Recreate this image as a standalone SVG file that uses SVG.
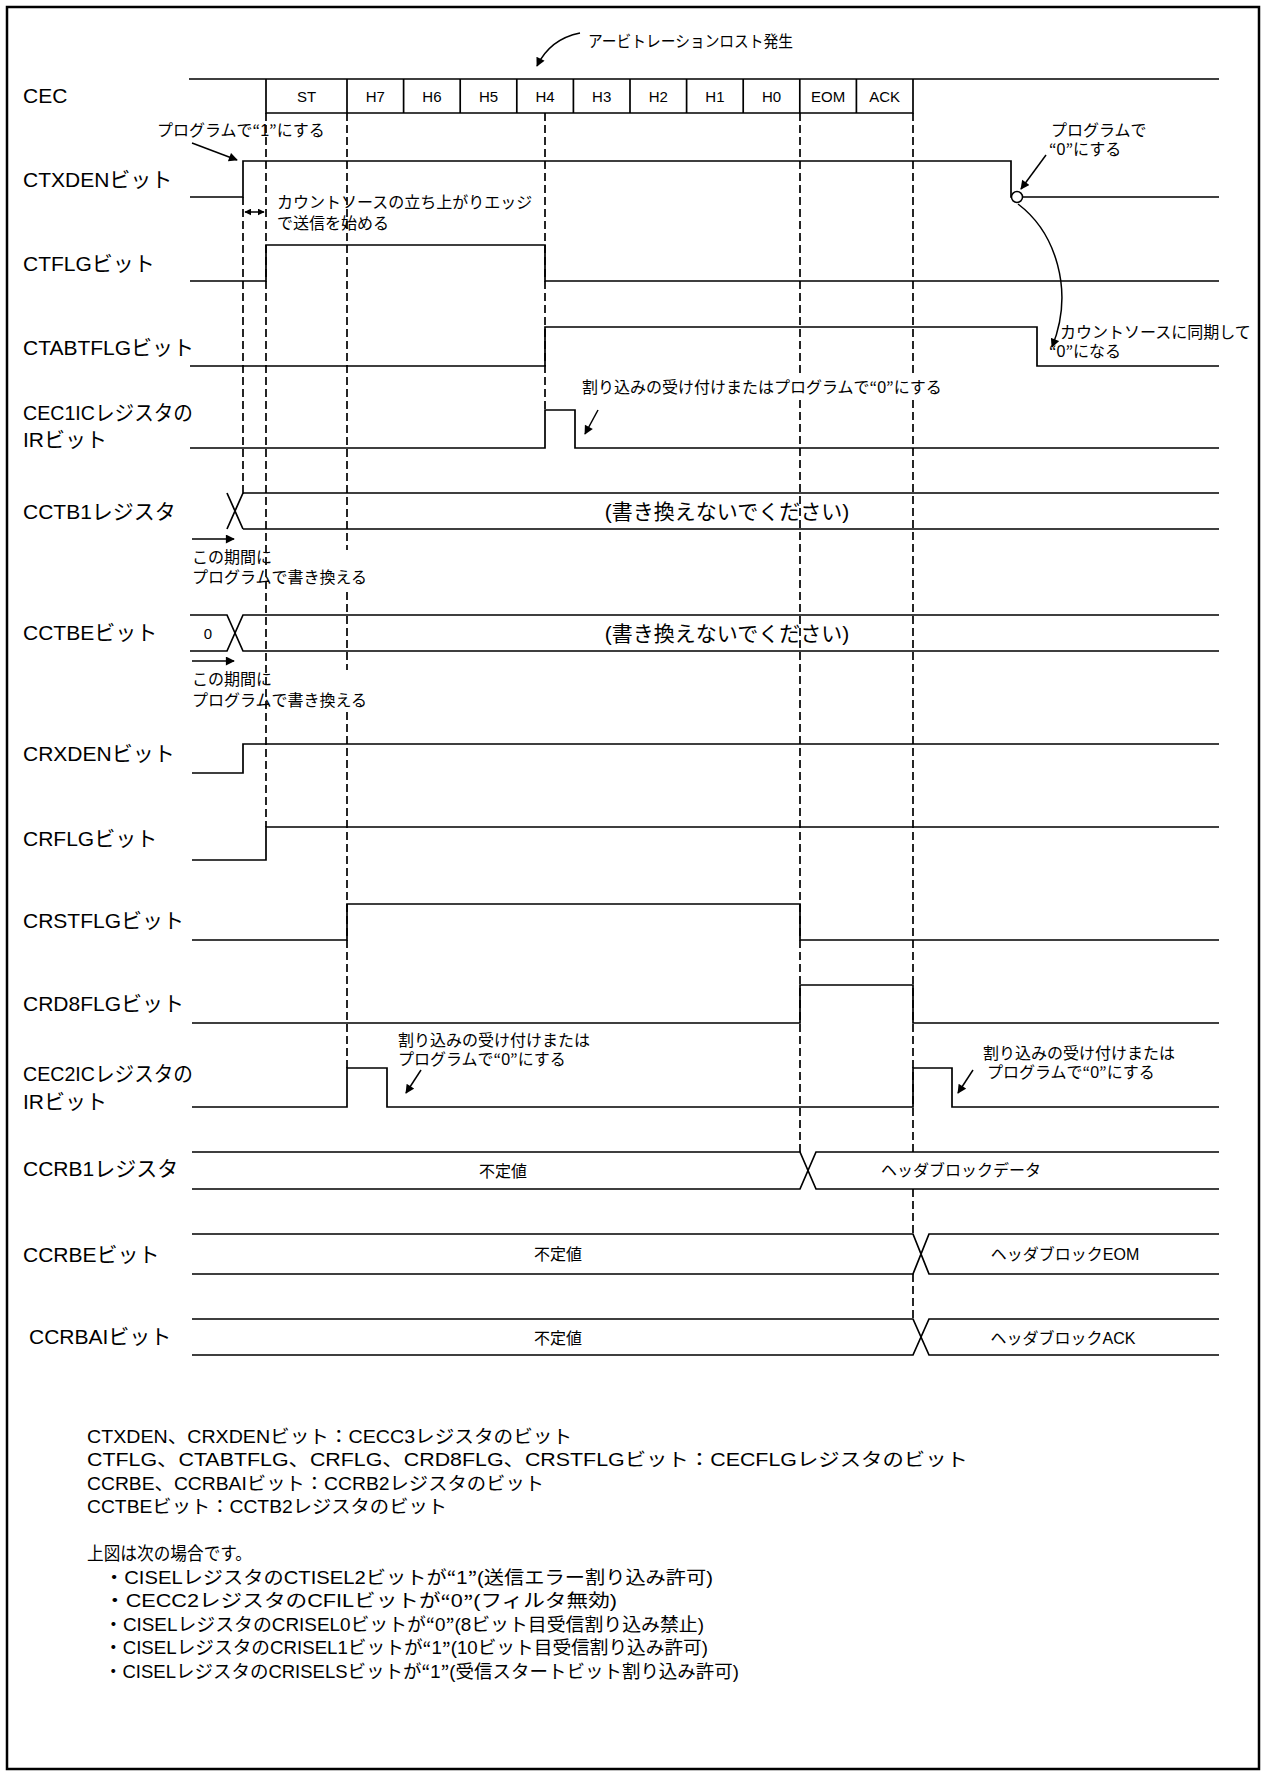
<svg xmlns="http://www.w3.org/2000/svg" width="1266" height="1776" viewBox="0 0 1266 1776">
<defs>
<style>
.t{font-family:"Liberation Sans","Noto Sans CJK JP",sans-serif;fill:#000;dominant-baseline:central}
.q{font-family:"Noto Sans CJK JP",sans-serif}
.lbl{font-size:21px}
.ann{font-size:16px}
.box{font-size:15px;text-anchor:middle}
.mid{text-anchor:middle}
.big{font-size:21px}
.note{font-size:18.5px}
.sig{fill:none;stroke:#000;stroke-width:1.7}
.dash{fill:none;stroke:#000;stroke-width:1.7;stroke-dasharray:8 4}
.arr{fill:none;stroke:#000;stroke-width:1.5}
</style>
<marker id="ah" viewBox="0 0 10 10" refX="9" refY="5" markerWidth="10" markerHeight="9" markerUnits="userSpaceOnUse" orient="auto-start-reverse"><path d="M0,0 L10,5 L0,10 z" fill="#000"/></marker>
<marker id="ahs" viewBox="0 0 10 10" refX="9" refY="5" markerWidth="7" markerHeight="7" markerUnits="userSpaceOnUse" orient="auto-start-reverse"><path d="M0,0 L10,5 L0,10 z" fill="#000"/></marker>
</defs>
<rect x="0" y="0" width="1266" height="1776" fill="#fff"/>
<rect id="frame" x="7" y="7" width="1252" height="1762" fill="none" stroke="#000" stroke-width="2.5"/>

<g id="connectors">
<path class="dash" d="M243 197 V493"/>
<path class="dash" d="M266 113 V827"/>
<path class="dash" d="M347 113 V550 M347 592 V670 M347 712 V1068"/>
<path class="dash" d="M545 113 V410"/>
<path class="dash" d="M800 113 V376 M800 400 V1152"/>
<path class="dash" d="M913 113 V376 M913 400 V1152 M913 1189 V1234 M913 1274 V1319"/>
<path class="arr" d="M580 33 Q550 39 537 66" marker-end="url(#ah)"/>
<path class="arr" d="M192 143 L237 160" marker-end="url(#ah)"/>
<path class="arr" d="M245 212 H264" marker-start="url(#ahs)" marker-end="url(#ahs)"/>
<path class="arr" d="M1046 155 L1021 189" marker-end="url(#ah)"/>
<path class="arr" d="M1018 204 C1055 232 1075 290 1052 347" marker-end="url(#ah)"/>
<path class="arr" d="M598 410 L585 434" marker-end="url(#ah)"/>
<path class="arr" d="M192 539 H234" stroke-width="2" marker-end="url(#ah)"/>
<path class="arr" d="M192 661 H234" stroke-width="2" marker-end="url(#ah)"/>
<path class="arr" d="M421 1070 L406 1093" marker-end="url(#ah)"/>
<path class="arr" d="M973 1070 L958 1093" marker-end="url(#ah)"/>
</g>

<g id="sig-cec">
<text class="t lbl" x="23" y="95">CEC</text>
<path class="sig" d="M189 79 H1219 M266 79 V113 H913 V79 M347 79 V113 M403.6 79 V113 M460.2 79 V113 M516.8 79 V113 M573.4 79 V113 M630 79 V113 M686.6 79 V113 M743.2 79 V113 M799.8 79 V113 M856.4 79 V113"/>
<text class="t box" x="306.5" y="96">ST</text>
<text class="t box" x="375.3" y="96">H7</text>
<text class="t box" x="431.9" y="96">H6</text>
<text class="t box" x="488.5" y="96">H5</text>
<text class="t box" x="545.1" y="96">H4</text>
<text class="t box" x="601.7" y="96">H3</text>
<text class="t box" x="658.3" y="96">H2</text>
<text class="t box" x="714.9" y="96">H1</text>
<text class="t box" x="771.5" y="96">H0</text>
<text class="t box" x="828.1" y="96">EOM</text>
<text class="t box" x="884.7" y="96">ACK</text>
<text class="t ann" x="588" y="41" textLength="205" lengthAdjust="spacingAndGlyphs">アービトレーションロスト発生</text>
</g>

<g id="sig-ctxden">
<text class="t lbl" x="23" y="179">CTXDENビット</text>
<path class="sig" d="M190 197 H243 V161 H1011 V197 H1219"/>
<circle cx="1017" cy="197" r="5.5" fill="#fff" stroke="#000" stroke-width="1.5"/>
<text class="t ann" x="157" y="130">プログラムで<tspan class="q">“</tspan>1<tspan class="q">”</tspan>にする</text>
<text class="t ann" x="277" y="202">カウントソースの立ち上がりエッジ</text>
<text class="t ann" x="277" y="223">で送信を始める</text>
<text class="t ann" x="1051" y="130">プログラムで</text>
<text class="t ann" x="1049" y="149"><tspan class="q">“</tspan>0<tspan class="q">”</tspan>にする</text>
</g>

<g id="sig-ctflg">
<text class="t lbl" x="23" y="263">CTFLGビット</text>
<path class="sig" d="M190 281 H266 V245 H545 V281 H1219"/>
</g>

<g id="sig-ctabtflg">
<text class="t lbl" x="23" y="347">CTABTFLGビット</text>
<path class="sig" d="M190 366 H545 V327 H1037 V366 H1219"/>
<text class="t ann" x="1060" y="332">カウントソースに同期して</text>
<text class="t ann" x="1049" y="351"><tspan class="q">“</tspan>0<tspan class="q">”</tspan>になる</text>
</g>

<g id="sig-cec1ic-ir">
<text class="t lbl" x="23" y="412" textLength="170" lengthAdjust="spacingAndGlyphs">CEC1ICレジスタの</text>
<text class="t lbl" x="23" y="439">IRビット</text>
<path class="sig" d="M190 448 H545 V410 H575 V448 H1219"/>
<rect x="579" y="376" width="384" height="24" fill="#fff"/>
<text class="t ann" x="582" y="387">割り込みの受け付けまたはプログラムで<tspan class="q">“</tspan>0<tspan class="q">”</tspan>にする</text>
</g>

<g id="sig-cctb1">
<text class="t lbl" x="23" y="511">CCTB1レジスタ</text>
<path class="sig" d="M227 493 L243 529 M227 529 L243 493 M243 493 H1219 M243 529 H1219"/>
<text class="t big mid" x="727" y="511">(書き換えないでください)</text>
<text class="t ann" x="192" y="557">この期間に</text>
<text class="t ann" x="192" y="577">プログラムで書き換える</text>
</g>

<g id="sig-cctbe">
<text class="t lbl" x="23" y="632">CCTBEビット</text>
<path class="sig" d="M190 615 H227 L243 651 H1219 M190 651 H227 L243 615 H1219"/>
<text class="t box" x="208" y="633">0</text>
<text class="t big mid" x="727" y="633">(書き換えないでください)</text>
<text class="t ann" x="192" y="679">この期間に</text>
<text class="t ann" x="192" y="700">プログラムで書き換える</text>
</g>

<g id="sig-crxden">
<text class="t lbl" x="23" y="753">CRXDENビット</text>
<path class="sig" d="M192 773 H243 V744 H1219"/>
</g>

<g id="sig-crflg">
<text class="t lbl" x="23" y="838">CRFLGビット</text>
<path class="sig" d="M192 860 H266 V827 H1219"/>
</g>

<g id="sig-crstflg">
<text class="t lbl" x="23" y="920">CRSTFLGビット</text>
<path class="sig" d="M192 940 H347 V904 H800 V940 H1219"/>
</g>

<g id="sig-crd8flg">
<text class="t lbl" x="23" y="1003">CRD8FLGビット</text>
<path class="sig" d="M192 1023 H800 V985 H913 V1023 H1219"/>
</g>

<g id="sig-cec2ic-ir">
<text class="t lbl" x="23" y="1073" textLength="170" lengthAdjust="spacingAndGlyphs">CEC2ICレジスタの</text>
<text class="t lbl" x="23" y="1101">IRビット</text>
<path class="sig" d="M192 1107 H347 V1068 H387 V1107 H913 V1068 H952 V1107 H1219"/>
<text class="t ann" x="398" y="1040">割り込みの受け付けまたは</text>
<text class="t ann" x="398" y="1059">プログラムで<tspan class="q">“</tspan>0<tspan class="q">”</tspan>にする</text>
<text class="t ann" x="983" y="1053">割り込みの受け付けまたは</text>
<text class="t ann" x="987" y="1072">プログラムで<tspan class="q">“</tspan>0<tspan class="q">”</tspan>にする</text>
</g>

<g id="sig-ccrb1">
<text class="t lbl" x="23" y="1168">CCRB1レジスタ</text>
<path class="sig" d="M192 1152 H800 L816 1189 H1219 M192 1189 H800 L816 1152 H1219"/>
<text class="t ann mid" x="503" y="1171">不定値</text>
<text class="t ann mid" x="961" y="1170">ヘッダブロックデータ</text>
</g>

<g id="sig-ccrbe">
<text class="t lbl" x="23" y="1254">CCRBEビット</text>
<path class="sig" d="M192 1234 H913 L929 1274 H1219 M192 1274 H913 L929 1234 H1219"/>
<text class="t ann mid" x="558" y="1254">不定値</text>
<text class="t ann mid" x="1065" y="1254">ヘッダブロックEOM</text>
</g>

<g id="sig-ccrbai">
<text class="t lbl" x="29" y="1336">CCRBAIビット</text>
<path class="sig" d="M192 1319 H913 L929 1355 H1219 M192 1355 H913 L929 1319 H1219"/>
<text class="t ann mid" x="558" y="1338">不定値</text>
<text class="t ann mid" x="1063" y="1338">ヘッダブロックACK</text>
</g>

<g id="notes">
<text class="t note" x="87" y="1436" textLength="485" lengthAdjust="spacingAndGlyphs">CTXDEN、CRXDENビット：CECC3レジスタのビット</text>
<text class="t note" x="87" y="1459.5" textLength="881" lengthAdjust="spacingAndGlyphs">CTFLG、CTABTFLG、CRFLG、CRD8FLG、CRSTFLGビット：CECFLGレジスタのビット</text>
<text class="t note" x="87" y="1483" textLength="457" lengthAdjust="spacingAndGlyphs">CCRBE、CCRBAIビット：CCRB2レジスタのビット</text>
<text class="t note" x="87" y="1506.5" textLength="360" lengthAdjust="spacingAndGlyphs">CCTBEビット：CCTB2レジスタのビット</text>
<text class="t note" x="87" y="1553" textLength="165" lengthAdjust="spacingAndGlyphs">上図は次の場合です。</text>
<text class="t note" x="104" y="1577" textLength="609" lengthAdjust="spacingAndGlyphs">・CISELレジスタのCTISEL2ビットが<tspan class="q">“</tspan>1<tspan class="q">”</tspan>(送信エラー割り込み許可)</text>
<text class="t note" x="104" y="1600.5" textLength="513" lengthAdjust="spacingAndGlyphs">・CECC2レジスタのCFILビットが<tspan class="q">“</tspan>0<tspan class="q">”</tspan>(フィルタ無効)</text>
<text class="t note" x="104" y="1624" textLength="600" lengthAdjust="spacingAndGlyphs">・CISELレジスタのCRISEL0ビットが<tspan class="q">“</tspan>0<tspan class="q">”</tspan>(8ビット目受信割り込み禁止)</text>
<text class="t note" x="104" y="1647.5" textLength="604" lengthAdjust="spacingAndGlyphs">・CISELレジスタのCRISEL1ビットが<tspan class="q">“</tspan>1<tspan class="q">”</tspan>(10ビット目受信割り込み許可)</text>
<text class="t note" x="104" y="1671" textLength="635" lengthAdjust="spacingAndGlyphs">・CISELレジスタのCRISELSビットが<tspan class="q">“</tspan>1<tspan class="q">”</tspan>(受信スタートビット割り込み許可)</text>
</g>
</svg>
